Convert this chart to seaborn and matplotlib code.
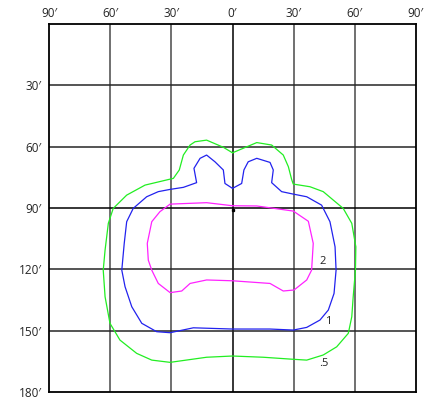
import matplotlib
matplotlib.use("Agg")
import matplotlib.pyplot as plt
import seaborn as sns
import pandas as pd

# contour levels (x: degrees left/right, y: degrees down)
green_x = [0, 11.9, 19.2, 24.9, 27.4, 29.0, 29.8, 38.0, 44.5, 54.3, 58.5, 60.5, 60.3, 59.2, 58.5, 56.8,
           51.1, 44.5, 36.4, 29.8, 15.1, 0, -12.7, -30.6, -39.6, -47.0, -55.2, -60.1, -62.5, -63.4,
           -62.5, -60.9, -58.5, -51.9, -42.9, -29.0, -26.1, -24.1, -20.8, -18.4, -12.7, -4.5, 0]
green_y = [63, 58, 59.2, 64.1, 69.8, 76, 78.3, 79.6, 82, 90.2, 97.5, 109, 120.4, 133.4, 143.2, 151.3,
           157.9, 161.9, 164.4, 164, 163, 162.4, 163, 165.5, 164.4, 161.1, 154.6, 146.4, 133.4, 120.4,
           110.6, 97.5, 90.2, 83.7, 78.8, 75.5, 71.4, 64.1, 59.2, 57.6, 56.8, 60.3, 63]

blue_x = [0, 4.5, 5.6, 7.7, 11.9, 18.4, 20.0, 19.2, 24.1, 29.8, 36.4, 43.7, 47.8, 50.3, 50.8, 49.8,
          47.0, 42.9, 36.4, 29.8, 18.4, 0, -19.2, -30.6, -37.2, -44.5, -49.4, -52.7, -54.3, -53.1,
          -51.9, -48.7, -42.1, -36.4, -30.6, -24.1, -17.6, -18.9, -15.9, -12.7, -8.6, -4.5, -3.7, 0]
blue_y = [80.4, 78, 71.4, 67.4, 65.7, 67.7, 71.4, 77.6, 82, 83.2, 84.5, 88.6, 96.7, 109, 120.4, 131.8,
          139.9, 144.8, 148.4, 149.7, 149.2, 149.2, 148.6, 151, 150.5, 146.4, 138.3, 128.5, 120.4, 107.3,
          96.7, 90.2, 84.5, 82, 80.9, 79.9, 77.6, 70.6, 65.7, 64.1, 67.4, 71.4, 78, 80.4]

magenta_x = [0, 11.9, 29.8, 37.2, 39.6, 38.8, 36.4, 30.2, 24.9, 18.4, 0, -12.7, -20.8, -24.9, -30.6,
             -36.4, -39.6, -41.3, -41.8, -39.6, -35.6, -30.6, -12.7, 0]
magenta_y = [88.9, 89, 91.5, 96.5, 107.3, 120.4, 125.2, 130.1, 130.6, 126.9, 125.6, 125.2, 126.9, 130.6,
             131.4, 126.9, 120.4, 115.5, 107.3, 96.7, 91.8, 88.1, 87.4, 88.9]

levels = [".5", "1", "2"]
level_pos = [(42.6, 166.3), (45.4, 145.5), (42.6, 116.0)]

x_ticks = [-90, -60, -30, 0, 30, 60, 90]
y_ticks = [30, 60, 90, 120, 150, 180]

sns.set_style("white")
plt.rcParams['font.family'] = ['Open Sans', 'DejaVu Sans']

fig = plt.figure(figsize=(4.25, 4.12), dpi=100)
ax = fig.add_axes([49 / 425, 20 / 412, 367 / 425, 368 / 412])

# grid
for xv in x_ticks[1:-1]:
    ax.axvline(xv, color='black' if xv == 0 else '#707070', lw=1.1 if xv == 0 else 1.4, zorder=1)
for yv in y_ticks[:-1]:
    ax.axhline(yv, color='black' if yv == 90 else '#262626', lw=1.1, zorder=1)

for xs, ys, col in [(green_x, green_y, '#22ee22'), (blue_x, blue_y, '#2222ee'),
                    (magenta_x, magenta_y, '#ff22ff')]:
    df = pd.DataFrame({'x': xs, 'y': ys})
    sns.lineplot(data=df, x='x', y='y', sort=False, estimator=None, color=col, lw=0.9, ax=ax, zorder=3)

ax.plot([0], [91], marker='s', ms=1.4, color='black', zorder=4)

for lab, (lx, ly) in zip(levels, level_pos):
    ax.text(lx, ly, lab, fontsize=8, ha='left', va='center', color='#222222')

ax.set_xlim(-90, 90)
ax.set_ylim(180, 0)
ax.xaxis.tick_top()
ax.set_xticks(x_ticks)
ax.set_xticklabels([f"{abs(v)}\u2032" for v in x_ticks], fontsize=8.5)
ax.set_yticks(y_ticks)
ax.set_yticklabels([f"{v}\u2032" for v in y_ticks], fontsize=8.5)
ax.tick_params(length=0, pad=3)
ax.tick_params(axis='y', pad=5)
ax.set_xlabel('')
ax.set_ylabel('')
for s in ax.spines.values():
    s.set_color('black')
    s.set_linewidth(1.3)

fig.savefig('out.png', dpi=100)
